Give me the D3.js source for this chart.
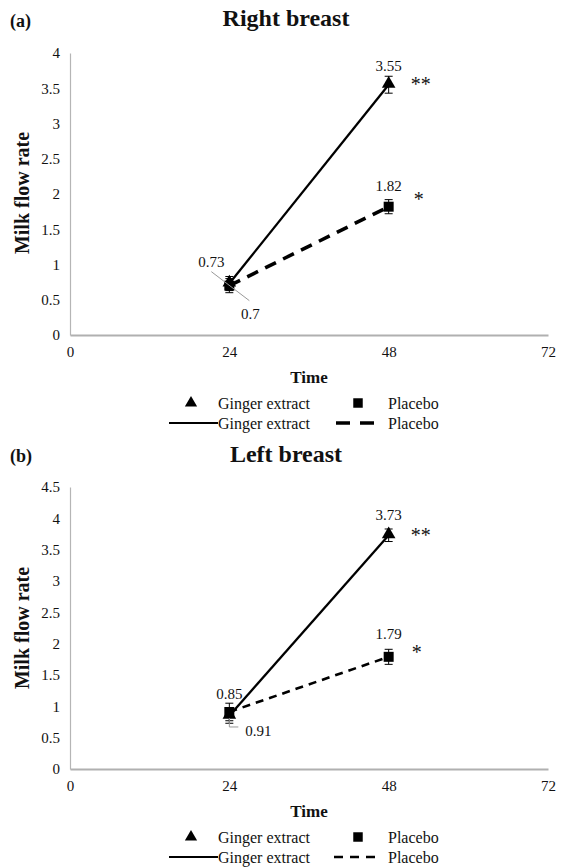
<!DOCTYPE html>
<html><head><meta charset="utf-8">
<script src="https://cdn.jsdelivr.net/npm/d3@7"></script>
<style>body{margin:0;background:#fff}svg{display:block}svg text{font-family:"Liberation Serif","Times New Roman",serif !important;fill:#111}</style>
</head><body><svg id="c" width="567" height="867"></svg>
<script>
const times = [24, 48];
const xTicks = [0, 24, 48, 72];
const yTicksA = [0, 0.5, 1, 1.5, 2, 2.5, 3, 3.5, 4];
const yTicksB = [0, 0.5, 1, 1.5, 2, 2.5, 3, 3.5, 4, 4.5];
const rightGinger = [0.73, 3.55];
const rightGingerErr = [0.1, 0.12];
const rightPlacebo = [0.70, 1.82];
const rightPlaceboErr = [0.1, 0.1];
const leftGinger = [0.85, 3.73];
const leftGingerErr = [0.12, 0.1];
const leftPlacebo = [0.91, 1.79];
const leftPlaceboErr = [0.14, 0.12];
const seriesNames = ["Ginger extract", "Placebo"];

const svg = d3.select("#c");
const x = d3.scaleLinear().domain([0, 72]).range([70, 548]);

function panel(o) {
  const g = svg.append("g");
  const y = d3.scaleLinear().domain([0, o.ymax]).range([o.y0, o.y1]);
  g.append("text").attr("x", 10).attr("y", o.tagY).attr("font-size", 18).attr("font-weight", "bold").text(o.tag);
  g.append("text").attr("x", 286).attr("y", o.titleY).attr("text-anchor", "middle").attr("font-size", 24).attr("font-weight", "bold").text(o.title);
  const ya = g.append("g").attr("transform", `translate(${x(0)},0)`)
    .call(d3.axisLeft(y).tickValues(o.yTicks).tickSize(0).tickPadding(10).tickFormat(d3.format("")));
  ya.select(".domain").attr("stroke", "#b5b5b5").attr("stroke-width", 1.2);
  ya.selectAll("text").attr("font-size", 15).attr("fill", "#111");
  const xa = g.append("g").attr("transform", `translate(0,${y(0)})`)
    .call(d3.axisBottom(x).tickValues(xTicks).tickSize(0).tickPadding(11));
  xa.select(".domain").attr("stroke", "#b0b0b0").attr("stroke-width", 1.8);
  xa.selectAll("text").attr("font-size", 15).attr("fill", "#111");
  g.append("text").attr("transform", `translate(29,${o.yTitleC}) rotate(-90)`).attr("text-anchor", "middle")
    .attr("font-size", 20).attr("font-weight", "bold").text("Milk flow rate");
  g.append("text").attr("x", x(36)).attr("y", y(0) + 48).attr("text-anchor", "middle")
    .attr("font-size", 17).attr("font-weight", "bold").text("Time");

  const line = d3.line().x((d, i) => x(times[i])).y(d => y(d));
  g.append("path").datum(o.ginger).attr("d", line).attr("fill", "none").attr("stroke", "#000").attr("stroke-width", 2.3);
  g.append("path").datum(o.placebo).attr("d", line).attr("fill", "none").attr("stroke", "#000")
    .attr("stroke-width", o.dashW).attr("stroke-dasharray", o.dash);
  function err(vals, errs) {
    vals.forEach((v, i) => {
      const cx = x(times[i]);
      const t = y(v + errs[i]), b = y(v - errs[i]);
      g.append("line").attr("x1", cx).attr("x2", cx).attr("y1", t).attr("y2", b).attr("stroke", "#000").attr("stroke-width", 1);
      [t, b].forEach(yy => g.append("line").attr("x1", cx - 4).attr("x2", cx + 4).attr("y1", yy).attr("y2", yy).attr("stroke", "#000").attr("stroke-width", 1));
    });
  }
  err(o.placebo, o.placeboErr);
  err(o.ginger, o.gingerErr);
  const tri = d3.symbol().type(d3.symbolTriangle).size(80);
  const sq = d3.symbol().type(d3.symbolSquare).size(100);
  o.placebo.forEach((v, i) => g.append("path").attr("d", sq()).attr("transform", `translate(${x(times[i])},${y(v)})`).attr("fill", "#000"));
  o.ginger.forEach((v, i) => g.append("path").attr("d", tri()).attr("transform", `translate(${x(times[i])},${y(v) - 1})`).attr("fill", "#000"));
  const lab = (tx, ty, s, fs) => g.append("text").attr("x", tx).attr("y", ty).attr("text-anchor", "middle").attr("font-size", fs || 15).text(s);
  o.labels(g, y, lab);
  const l1 = y(0) + 74, l2 = y(0) + 94;
  g.append("path").attr("d", d3.symbol().type(d3.symbolTriangle).size(65)()).attr("transform", `translate(191,${l1 - 6})`).attr("fill", "#000");
  g.append("text").attr("x", 218).attr("y", l1).attr("font-size", 16).text(seriesNames[0]);
  g.append("path").attr("d", d3.symbol().type(d3.symbolSquare).size(90)()).attr("transform", `translate(358,${l1 - 6})`).attr("fill", "#000");
  g.append("text").attr("x", 388).attr("y", l1).attr("font-size", 16).text(seriesNames[1]);
  g.append("line").attr("x1", 169).attr("x2", 218).attr("y1", l2 - 6).attr("y2", l2 - 6).attr("stroke", "#000").attr("stroke-width", 2);
  g.append("text").attr("x", 218).attr("y", l2).attr("font-size", 16).text(seriesNames[0]);
  g.append("line").attr("x1", o.legDash[0]).attr("x2", 380).attr("y1", l2 - 6).attr("y2", l2 - 6).attr("stroke", "#000")
    .attr("stroke-width", o.legDashW).attr("stroke-dasharray", o.legDashPat);
  g.append("text").attr("x", 388).attr("y", l2).attr("font-size", 16).text(seriesNames[1]);
}

panel({
  tag: "(a)", tagY: 27, title: "Right breast", titleY: 26, ymax: 4, y0: 335, y1: 53, yTicks: yTicksA, yTitleC: 193,
  ginger: rightGinger, gingerErr: rightGingerErr, placebo: rightPlacebo, placeboErr: rightPlaceboErr,
  dashW: 3.6, dash: "12,8", legDash: [336], legDashW: 3.6, legDashPat: "14,10",
  labels: (g, y, lab) => {
    const px = x(times[0]), py = y(rightPlacebo[0]);
    g.append("line").attr("x1", px - 18).attr("y1", py - 14).attr("x2", px + 20).attr("y2", py + 15).attr("stroke", "#999").attr("stroke-width", 1);
    lab(px - 18, py - 19, rightGinger[0]);
    lab(px + 21, py + 33, rightPlacebo[0]);
    lab(x(48), y(rightGinger[1]) - 14, rightGinger[1].toFixed(2));
    lab(x(48) + 32, y(rightGinger[1]) + 6, "**", 20);
    lab(x(48), y(rightPlacebo[1]) - 16, rightPlacebo[1].toFixed(2));
    lab(x(48) + 30, y(rightPlacebo[1]) - 1, "*", 20);
  }
});

panel({
  tag: "(b)", tagY: 462, title: "Left breast", titleY: 462, ymax: 4.5, y0: 769, y1: 487, yTicks: yTicksB, yTitleC: 628,
  ginger: leftGinger, gingerErr: leftGingerErr, placebo: leftPlacebo, placeboErr: leftPlaceboErr,
  dashW: 2.6, dash: "8,6", legDash: [334], legDashW: 2.4, legDashPat: "9,7",
  labels: (g, y, lab) => {
    const px = x(times[0]), py = y(leftPlacebo[0]);
    g.append("path").attr("d", `M${px},${py + 6}V${py + 15}H${px + 9}`).attr("fill", "none").attr("stroke", "#999").attr("stroke-width", 1);
    lab(px, py - 13, leftGinger[0].toFixed(2));
    lab(px + 29, py + 24, leftPlacebo[0]);
    lab(x(48), y(leftGinger[1]) - 15, leftGinger[1].toFixed(2));
    lab(x(48) + 32, y(leftGinger[1]) + 7, "**", 20);
    lab(x(48), y(leftPlacebo[1]) - 18, leftPlacebo[1].toFixed(2));
    lab(x(48) + 28, y(leftPlacebo[1]) + 2, "*", 20);
  }
});
</script></body></html>
